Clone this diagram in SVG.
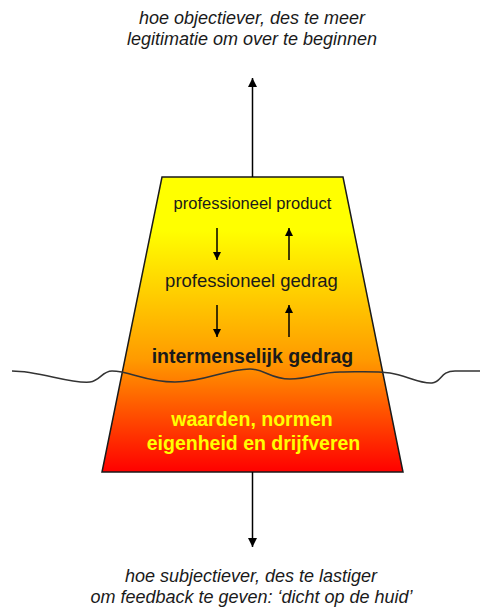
<svg xmlns="http://www.w3.org/2000/svg" width="481" height="607" viewBox="0 0 481 607">
  <style>
    .cap { font-family: "Liberation Sans", Arial, sans-serif; font-style: italic; font-size: 18px; fill: #1a1a1a; text-anchor: middle; }
    .in { font-family: "Liberation Sans", Arial, sans-serif; fill: #1a1a1a; text-anchor: middle; }
    .bold { font-weight: bold; }
    .yel { fill: #ffff00; }
    .conn { stroke: #000; stroke-width: 1.5; fill: none; }
  </style>
  <defs>
    <linearGradient id="grad" x1="0" y1="0" x2="0" y2="1">
      <stop offset="0" stop-color="#ffff00"/>
      <stop offset="0.18" stop-color="#ffff00"/>
      <stop offset="0.62" stop-color="#ff9a00"/>
      <stop offset="1" stop-color="#ff0000"/>
    </linearGradient>
    <marker id="ah" viewBox="0 0 10 10" refX="10" refY="5" markerWidth="9" markerHeight="9" markerUnits="userSpaceOnUse" orient="auto">
      <path d="M0,0 L10,5 L0,10 z" fill="#000"/>
    </marker>
    <marker id="ahs" viewBox="0 0 10 10" refX="10" refY="5" markerWidth="9" markerHeight="8" markerUnits="userSpaceOnUse" orient="auto">
      <path d="M0,0 L10,5 L0,10 z" fill="#000"/>
    </marker>
  </defs>

  <g id="iceberg">
    <polygon points="162,177 343,177 403,472 102,472" fill="url(#grad)" stroke="#1a1a1a" stroke-width="1.5"/>
  </g>

  <g id="waterline">
    <path d="M12,371 C40,371 70,384 90,382 C100,381 102,371 112,371 C130,371 145,382 175,382 C205,382 225,369 250,369 C265,369 270,379 290,379 C310,379 320,372 340,372 C360,372 375,371 390,373 C405,375 420,384 432,383 C442,382 440,371 455,371 L480,371" fill="none" stroke="#333" stroke-width="1.5"/>
  </g>

  <g id="connectors">
    <line class="conn" x1="252.5" y1="177" x2="252.5" y2="78" marker-end="url(#ah)"/>
    <line class="conn" x1="252.5" y1="472" x2="252.5" y2="547" marker-end="url(#ah)"/>
    <line class="conn" x1="217" y1="228" x2="217" y2="260" marker-end="url(#ahs)"/>
    <line class="conn" x1="289" y1="260" x2="289" y2="228" marker-end="url(#ahs)"/>
    <line class="conn" x1="217" y1="305" x2="217" y2="337" marker-end="url(#ahs)"/>
    <line class="conn" x1="289" y1="337" x2="289" y2="305" marker-end="url(#ahs)"/>
  </g>

  <g id="top-caption">
    <text class="cap" x="252" y="24">hoe objectiever, des te meer</text>
    <text class="cap" x="252" y="45">legitimatie om over te beginnen</text>
  </g>

  <g id="professioneel-product">
    <text class="in" x="252.5" y="209" font-size="16.5">professioneel product</text>
  </g>
  <g id="professioneel-gedrag">
    <text class="in" x="251.5" y="287" font-size="18.5">professioneel gedrag</text>
  </g>
  <g id="intermenselijk-gedrag">
    <text class="in bold" x="252.5" y="363" font-size="19.5">intermenselijk gedrag</text>
  </g>
  <g id="waarden">
    <text class="in bold yel" x="252" y="426" font-size="19.5">waarden, normen</text>
    <text class="in bold yel" x="253.5" y="450" font-size="19.5">eigenheid en drijfveren</text>
  </g>

  <g id="bottom-caption">
    <text class="cap" x="251" y="582">hoe subjectiever, des te lastiger</text>
    <text class="cap" x="251.5" y="603">om feedback te geven: ‘dicht op de huid’</text>
  </g>
</svg>
